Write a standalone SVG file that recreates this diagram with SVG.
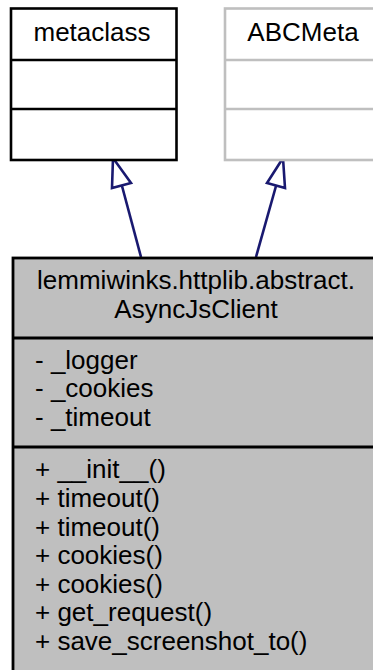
<svg xmlns="http://www.w3.org/2000/svg" width="373" height="670" viewBox="0 0 373 670">
<style>
text{font-family:"Liberation Sans",Arial,sans-serif;font-size:26px;fill:#000}
.c{text-anchor:middle}
.edge{stroke:#191970;stroke-width:2.6;fill:none}
.head{stroke:#191970;stroke-width:2.6;fill:#fff}
</style>
<rect width="373" height="670" fill="#fff"/>
<g id="connectors">
<path class="edge" d="M141,257 L122,186"/>
<polygon class="head" points="113,158 112,188 131,183"/>
<path class="edge" d="M256,257 L276,186"/>
<polygon class="head" points="283,158 267,183 285,188"/>
</g>
<g id="metaclass">
<rect x="11" y="8.5" width="165.5" height="151.5" fill="#fff" stroke="#000" stroke-width="2.6"/>
<line x1="11" y1="60" x2="176.5" y2="60" stroke="#000" stroke-width="2.6"/>
<line x1="11" y1="109" x2="176.5" y2="109" stroke="#000" stroke-width="2.6"/>
<text class="c" x="92" y="41">metaclass</text>
</g>
<g id="ABCMeta">
<rect x="225" y="8.5" width="165" height="151.5" fill="#fff" stroke="#bfbfbf" stroke-width="2.6"/>
<line x1="225" y1="60" x2="390" y2="60" stroke="#bfbfbf" stroke-width="2.6"/>
<line x1="225" y1="109" x2="390" y2="109" stroke="#bfbfbf" stroke-width="2.6"/>
<text class="c" x="303" y="41">ABCMeta</text>
</g>
<g id="AsyncJsClient">
<rect x="13" y="258" width="366" height="420" fill="#bfbfbf" stroke="#000" stroke-width="2.8"/>
<line x1="13" y1="338" x2="379" y2="338" stroke="#000" stroke-width="2.8"/>
<line x1="13" y1="447" x2="379" y2="447" stroke="#000" stroke-width="2.8"/>
<text class="c" x="196" y="289">lemmiwinks.httplib.abstract.</text>
<text class="c" x="196" y="318">AsyncJsClient</text>
<text x="35" y="369">- _logger</text>
<text x="35" y="397">- _cookies</text>
<text x="35" y="426">- _timeout</text>
<text x="35" y="478">+ __init__()</text>
<text x="35" y="507">+ timeout()</text>
<text x="35" y="536">+ timeout()</text>
<text x="35" y="564">+ cookies()</text>
<text x="35" y="593">+ cookies()</text>
<text x="35" y="621">+ get_request()</text>
<text x="35" y="650">+ save_screenshot_to()</text>
</g>
</svg>
